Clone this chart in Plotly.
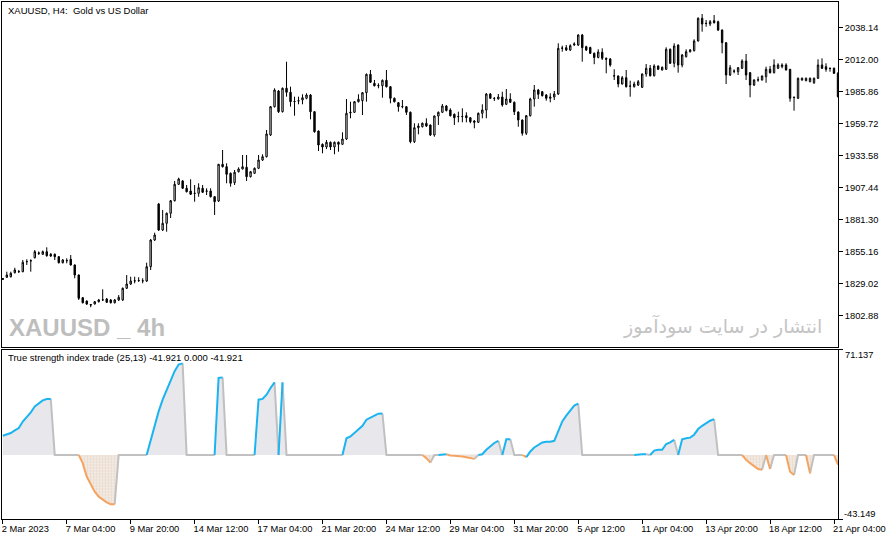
import plotly.graph_objects as go

# ---------------- data ----------------
bar_idx = list(range(210))

open_ = [
 1832.68, 1834.50, 1834.97, 1838.23, 1839.21, 1839.05, 1847.38, 1847.79, 1850.49, 1853.92,
 1853.27, 1855.39, 1853.27, 1853.27, 1851.31, 1846.41, 1848.20, 1849.18, 1844.53, 1836.35,
 1817.81, 1815.11, 1812.26, 1812.66, 1814.54, 1815.93, 1816.75, 1815.93, 1813.73, 1815.93,
 1815.93, 1825.49, 1829.00, 1831.45, 1831.70, 1831.45, 1831.45, 1843.14, 1864.94, 1894.35,
 1873.11, 1878.58, 1886.75, 1897.05, 1910.45, 1913.14, 1907.18, 1904.98, 1902.93, 1903.09,
 1907.18, 1904.98, 1904.98, 1900.32, 1896.81, 1926.79, 1924.83, 1919.43, 1911.75, 1920.74,
 1922.95, 1924.33, 1916.65, 1919.43, 1923.52, 1930.30, 1933.00, 1950.72, 1973.84, 1986.66,
 1969.75, 1988.87, 1985.60, 1977.92, 1978.49, 1979.31, 1980.70, 1983.40, 1969.75, 1953.98,
 1943.12, 1940.92, 1944.76, 1940.92, 1944.76, 1943.12, 1947.45, 1968.69, 1969.26, 1977.92,
 1978.74, 1985.27, 2000.30, 1992.95, 1991.15, 1990.99, 1995.40, 1990.17, 1980.70, 1977.10,
 1974.00, 1973.84, 1969.26, 1945.24, 1956.68, 1957.50, 1960.28, 1958.89, 1950.72, 1966.24,
 1969.26, 1974.41, 1971.14, 1967.63, 1965.67, 1965.67, 1966.49, 1964.85, 1962.15, 1961.09,
 1968.44, 1971.14, 1984.21, 1980.70, 1980.13, 1981.76, 1975.80, 1980.13, 1977.43, 1969.51,
 1962.97, 1952.11, 1966.49, 1980.13, 1987.48, 1986.09, 1983.40, 1980.70, 1981.76, 1984.21,
 2021.54, 2022.03, 2020.16, 2024.24, 2024.24, 2032.41, 2022.85, 2022.20, 2017.46, 2014.03,
 2018.28, 2013.37, 2012.80, 1998.92, 1998.92, 1992.38, 1997.53, 1990.75, 1990.17, 1991.56,
 1989.68, 2000.55, 2005.21, 1999.16, 2007.08, 2003.82, 2004.39, 2020.73, 2009.29, 2024.24,
 2007.90, 2014.68, 2018.77, 2019.58, 2027.51, 2046.05, 2041.97, 2041.39, 2044.09, 2043.27,
 2036.49, 2026.12, 1999.73, 2003.00, 2002.43, 2005.21, 2011.17, 2001.61, 1991.56, 1995.65,
 1995.65, 1998.34, 2004.39, 2001.61, 2005.21, 2006.51, 2007.90, 2004.39, 1981.52, 1980.70,
 1995.65, 1995.08, 1994.26, 1993.44, 1997.04, 2007.90, 2006.51, 2005.21, 2005.21, 2001.12]

high = [
 1833.90, 1839.05, 1839.05, 1842.32, 1840.44, 1848.61, 1849.18, 1849.18, 1856.78, 1855.55,
 1856.37, 1858.98, 1854.33, 1853.92, 1851.88, 1849.43, 1850.00, 1852.70, 1844.94, 1836.76,
 1818.38, 1815.52, 1812.66, 1815.11, 1816.75, 1824.67, 1817.56, 1816.75, 1816.75, 1819.98,
 1826.14, 1836.35, 1834.97, 1834.97, 1834.48, 1833.66, 1846.41, 1865.76, 1870.90, 1895.17,
 1889.45, 1887.41, 1897.62, 1913.14, 1915.84, 1913.96, 1909.87, 1914.53, 1909.87, 1911.26,
 1909.87, 1907.18, 1907.18, 1900.89, 1927.03, 1938.47, 1927.60, 1920.08, 1922.13, 1924.33,
 1934.38, 1934.38, 1921.31, 1924.17, 1934.38, 1934.96, 1954.80, 1974.41, 1988.87, 1987.48,
 1989.52, 2010.60, 1990.17, 1982.00, 1982.00, 1983.97, 1984.79, 1984.21, 1970.32, 1954.39,
 1943.78, 1946.63, 1945.41, 1945.41, 1945.41, 1952.92, 1980.13, 1977.92, 1978.49, 1983.97,
 1985.85, 2000.96, 2003.82, 1995.65, 1992.95, 1996.06, 2003.82, 1990.75, 1981.35, 1977.68,
 1979.31, 1974.41, 1969.92, 1960.28, 1960.28, 1960.93, 1964.36, 1959.30, 1966.65, 1969.92,
 1976.04, 1975.23, 1972.53, 1968.28, 1969.75, 1972.53, 1969.26, 1965.42, 1962.97, 1969.10,
 1975.80, 1985.03, 1985.03, 1981.76, 1984.21, 1986.09, 1988.30, 1984.79, 1978.09, 1969.90,
 1963.38, 1967.06, 1981.19, 1991.56, 1988.30, 1986.66, 1984.21, 1984.79, 1986.66, 2025.63,
 2023.67, 2024.24, 2024.81, 2026.45, 2032.98, 2033.23, 2023.59, 2022.85, 2018.11, 2020.73,
 2021.54, 2014.03, 2013.62, 2004.39, 1999.32, 1998.92, 2003.82, 1995.08, 1994.26, 1995.65,
 2000.96, 2008.72, 2007.90, 2008.47, 2007.49, 2006.68, 2022.36, 2021.38, 2025.63, 2024.65,
 2016.89, 2020.73, 2020.97, 2028.90, 2046.87, 2049.56, 2044.66, 2044.66, 2048.75, 2044.09,
 2036.90, 2026.69, 2007.90, 2004.39, 2006.27, 2012.56, 2016.89, 2002.18, 1996.22, 1998.34,
 1999.32, 2006.51, 2007.08, 2012.56, 2009.29, 2009.29, 2009.29, 2004.63, 1982.17, 1997.69,
 1997.69, 1997.69, 1997.69, 1997.69, 2012.56, 2013.37, 2009.29, 2005.86, 2005.86, 2002.18]

low = [
 1832.27, 1833.90, 1834.31, 1837.58, 1837.99, 1838.62, 1844.53, 1839.05, 1849.84, 1852.70,
 1852.70, 1851.31, 1851.06, 1848.61, 1845.75, 1845.75, 1845.91, 1844.12, 1833.66, 1815.93,
 1813.07, 1811.85, 1809.97, 1812.26, 1813.89, 1815.11, 1813.48, 1813.07, 1813.07, 1815.11,
 1815.11, 1824.92, 1828.19, 1829.57, 1830.64, 1829.57, 1830.64, 1840.44, 1864.13, 1872.30,
 1872.30, 1871.73, 1882.91, 1896.39, 1909.87, 1906.61, 1903.75, 1901.71, 1896.23, 1900.32,
 1903.34, 1901.71, 1899.66, 1885.37, 1895.99, 1924.17, 1911.26, 1908.49, 1909.87, 1920.08,
 1922.54, 1913.14, 1916.00, 1918.86, 1922.95, 1929.48, 1932.34, 1949.90, 1973.18, 1968.69,
 1969.10, 1982.00, 1973.84, 1966.49, 1975.80, 1975.80, 1979.88, 1963.54, 1952.60, 1937.65,
 1935.77, 1939.27, 1938.47, 1934.96, 1937.08, 1942.55, 1946.63, 1964.36, 1968.69, 1977.27,
 1967.06, 1977.92, 1993.20, 1990.34, 1988.87, 1981.19, 1989.52, 1976.61, 1977.27, 1969.75,
 1972.53, 1967.06, 1943.94, 1944.18, 1951.29, 1956.85, 1957.25, 1949.90, 1949.33, 1958.89,
 1968.69, 1969.92, 1965.83, 1958.89, 1961.09, 1961.09, 1961.09, 1960.28, 1956.19, 1960.52,
 1964.36, 1964.36, 1980.13, 1978.49, 1979.72, 1973.84, 1975.23, 1976.86, 1967.06, 1957.50,
 1950.15, 1950.72, 1965.83, 1973.84, 1980.13, 1982.17, 1978.74, 1977.43, 1979.31, 1983.40,
 2018.77, 2019.34, 2019.34, 2023.59, 2023.42, 2010.60, 2019.34, 2016.89, 2008.55, 2013.37,
 2011.99, 2001.12, 2006.51, 1995.65, 1989.68, 1991.97, 1989.52, 1982.00, 1989.52, 1990.75,
 1989.11, 1998.34, 1998.51, 1998.51, 2003.82, 2003.41, 2003.82, 2008.72, 2006.02, 2001.61,
 2006.02, 2014.03, 2018.11, 2018.93, 2027.10, 2035.10, 2039.19, 2039.76, 2041.80, 2035.68,
 2017.46, 1992.38, 1998.92, 2001.12, 1999.73, 2004.63, 1995.65, 1981.52, 1990.75, 1994.26,
 1995.24, 1993.44, 2000.96, 2000.96, 2004.63, 2005.21, 2003.41, 1977.92, 1970.57, 1980.13,
 1995.08, 1994.59, 1993.77, 1992.38, 1996.46, 2004.63, 2002.43, 2002.43, 2000.55, 1981.35]

close = [
 1833.49, 1836.35, 1837.74, 1840.44, 1839.05, 1846.73, 1847.22, 1848.04, 1855.39, 1854.33,
 1855.39, 1852.12, 1851.88, 1851.31, 1846.41, 1848.61, 1848.04, 1844.53, 1836.35, 1817.32,
 1813.73, 1812.66, 1811.85, 1814.54, 1815.93, 1816.09, 1814.05, 1813.73, 1815.93, 1818.13,
 1825.49, 1829.00, 1831.45, 1831.62, 1831.86, 1831.62, 1843.14, 1864.94, 1869.03, 1873.11,
 1878.58, 1886.75, 1897.05, 1910.45, 1914.78, 1907.18, 1904.41, 1902.28, 1903.09, 1907.67,
 1903.91, 1904.81, 1900.32, 1896.23, 1926.79, 1924.83, 1918.61, 1911.26, 1920.25, 1922.95,
 1924.83, 1916.65, 1920.74, 1923.52, 1930.30, 1933.00, 1951.54, 1973.84, 1987.48, 1969.75,
 1988.87, 1985.60, 1977.92, 1978.09, 1978.66, 1981.19, 1983.40, 1969.75, 1953.41, 1942.55,
 1940.92, 1944.76, 1940.92, 1944.76, 1943.12, 1947.45, 1968.44, 1969.26, 1977.92, 1979.88,
 1985.27, 2000.30, 1993.77, 1990.99, 1990.99, 1995.40, 1990.17, 1980.70, 1977.92, 1973.84,
 1973.84, 1969.26, 1945.24, 1956.68, 1958.07, 1960.28, 1958.07, 1950.72, 1966.24, 1969.26,
 1974.41, 1970.73, 1966.49, 1964.85, 1965.83, 1965.83, 1964.85, 1961.58, 1961.09, 1968.44,
 1971.14, 1984.21, 1980.70, 1980.54, 1981.76, 1975.23, 1980.13, 1977.43, 1969.75, 1962.97,
 1952.11, 1966.49, 1980.13, 1987.48, 1983.97, 1982.82, 1980.70, 1981.76, 1984.21, 2021.54,
 2021.79, 2020.16, 2023.67, 2025.06, 2032.41, 2022.03, 2020.16, 2017.46, 2014.03, 2018.52,
 2013.37, 2012.56, 2007.90, 1999.08, 1992.38, 1997.53, 1990.17, 1990.58, 1992.38, 1994.26,
 2000.55, 2005.21, 1999.16, 2007.08, 2004.39, 2006.02, 2020.73, 2009.29, 2023.42, 2007.90,
 2016.07, 2018.77, 2020.16, 2027.51, 2046.05, 2041.39, 2041.80, 2043.27, 2042.46, 2036.49,
 2026.12, 1999.73, 2005.70, 2002.84, 2005.70, 2011.17, 1999.73, 1991.56, 1995.65, 1995.81,
 1998.92, 2004.39, 2001.61, 2007.90, 2007.90, 2007.90, 2003.82, 1980.70, 1981.35, 1997.04,
 1997.04, 1997.04, 1997.04, 1997.04, 2007.90, 2005.21, 2004.39, 2005.04, 2001.12, 1982.00]

tsi = [
 12.98, 13.66, 14.8, 16.6, 18.2, 22.6, 25.6, 28.7, 32.8, 35.1,
 36.8, 37.8, 37.8, 0, 0, 0, 0, 0, 0, 0,
 -5.5, -14.5, -20.2, -24.7, -28.1, -30.3, -31.9, -33.2, -33.2, 0,
 0, 0, 0, 0, 0, 0, 0, 10.3, 20.5, 29.4,
 37.3, 44.1, 50.9, 56.5, 61.0, 61.8, 0, 0, 0, 0,
 0, 0, 0, 0, 52.0, 52.3, 0, 0, 0, 0,
 0, 0, 0, 0, 37.3, 37.8, 40.7, 45.2, 49.0, 0,
 49.0, 0, 0, 0, 0, 0, 0, 0, 0, 0,
 0, 0, 0, 0, 0, 0, 11.3, 12.5, 14.8, 17.5,
 19.7, 23.8, 25.4, 26.5, 27.9, 28.0, 0, 0, 0, 0,
 0, 0, 0, 0, 0, 0, -2.1, -5.1, 0, 0,
 0.5, 0.5, -0.3, -0.5, -0.5, -1.0, -1.5, -2.1, -2.6, 0,
 0.5, 3.5, 5.8, 8.1, 9.6, 0, 10.6, 10.6, 0, 0,
 0, -1.5, 2.4, 5.1, 6.9, 8.5, 9.0, 9.0, 9.6, 16.6,
 22.6, 26.5, 29.9, 33.3, 34.6, 0, 0, 0, 0, 0,
 0, 0, 0, 0, 0, 0, 0, 0, 0, 0.5,
 0.5, 0.5, 0, 3.0, 3.5, 3.5, 7.4, 8.5, 10.3, 0,
 10.6, 11.3, 11.7, 13.7, 17.5, 19.7, 21.5, 23.1, 24.2, 0,
 0, 0, 0, 0, 0, 0, -3.2, -5.5, -7.7, -9.5,
 -10.0, 0, -9.5, 0, 0, 0, 0, -11.3, -13.5, 0,
 0, 0, -12.4, 0, 0, 0, 0, 0, 0, -6.5]

price_ticks = [2038.14, 2012.00, 1985.86, 1959.72, 1933.58, 1907.44, 1881.30, 1855.16, 1829.02, 1802.88]
price_tick_text = ["2038.14", "2012.00", "1985.86", "1959.72", "1933.58",
                   "1907.44", "1881.30", "1855.16", "1829.02", "1802.88"]
price_range = [1777.94, 2059.77]

tsi_range = [-43.149, 71.137]
tsi_tick_text = ["71.137", "-43.149"]

time_tick_bars = [0, 16, 32, 48, 64, 80, 96, 112, 128, 144, 160, 176, 192, 208]
time_tick_text = ["2 Mar 2023", "7 Mar 04:00", "9 Mar 20:00", "14 Mar 12:00", "17 Mar 04:00",
                  "21 Mar 20:00", "24 Mar 12:00", "29 Mar 04:00", "31 Mar 20:00", "5 Apr 12:00",
                  "11 Apr 04:00", "13 Apr 20:00", "18 Apr 12:00", "21 Apr 04:00"]

chart_title = "XAUUSD, H4:\u00a0 Gold vs US Dollar"
indicator_title = "True strength index trade (25,13) -41.921 0.000 -41.921"
watermark_left = "XAUUSD _ 4h"
watermark_right = "انتشار در سایت سودآموز"

# ---------------- styling ----------------
W, H = 892, 541
FONT = "Liberation Sans, Arial, sans-serif"
FS = 9.3
FS_TITLE = 9.5
BLUE = "#1AB4F0"
ORANGE = "#F4A460"
GRAY = "#C0C0C0"

def px_x(p):
    return p / W

def px_y(p):
    return 1 - p / H

x_dom = [px_x(2), px_x(838)]
x_range = [-0.2, 209.0]

fig = go.Figure()

fig.add_trace(go.Candlestick(
    x=bar_idx, open=open_, high=high, low=low, close=close,
    increasing=dict(line=dict(color="black", width=1), fillcolor="white"),
    decreasing=dict(line=dict(color="black", width=1), fillcolor="black"),
    whiskerwidth=0, xaxis="x", yaxis="y", showlegend=False, hoverinfo="skip",
))

# indicator fills
pos = [max(v, 0) for v in tsi]
neg = [min(v, 0) for v in tsi]
fig.add_trace(go.Scatter(x=bar_idx, y=pos, mode="lines", fill="tozeroy",
                         fillcolor="#E7E7EC", line=dict(width=0, color="rgba(0,0,0,0)"),
                         xaxis="x2", yaxis="y2", showlegend=False, hoverinfo="skip"))
fig.add_trace(go.Scatter(x=bar_idx, y=neg, mode="lines", fill="tozeroy",
                         fillcolor="rgba(0,0,0,0)",
                         fillpattern=dict(shape=".", fgcolor="#E6C2A2", bgcolor="#F2F0EE",
                                          size=3, solidity=0.5),
                         line=dict(width=0, color="rgba(0,0,0,0)"),
                         xaxis="x2", yaxis="y2", showlegend=False, hoverinfo="skip"))

# multi-coloured indicator line
def seg_color(i):
    v, p = tsi[i], tsi[i - 1]
    if v > 0 and v >= p:
        return "blue"
    if v < 0 and v <= p:
        return "orange"
    return "gray"

runs = {"blue": ([], []), "orange": ([], []), "gray": ([], [])}
i = 1
while i < len(tsi):
    c = seg_color(i)
    xs, ys = [bar_idx[i - 1]], [tsi[i - 1]]
    while i < len(tsi) and seg_color(i) == c:
        xs.append(bar_idx[i]); ys.append(tsi[i]); i += 1
    rx, ry = runs[c]
    rx.extend(xs + [None]); ry.extend(ys + [None])

for c, col in (("gray", GRAY), ("orange", ORANGE), ("blue", BLUE)):
    rx, ry = runs[c]
    fig.add_trace(go.Scatter(x=rx, y=ry, mode="lines", connectgaps=False,
                             line=dict(color=col, width=2),
                             xaxis="x2", yaxis="y2", showlegend=False, hoverinfo="skip"))

axis_common = dict(showgrid=False, zeroline=False, showline=True, mirror=True,
                   linecolor="black", linewidth=1, tickcolor="black", automargin=False,
                   tickfont=dict(family=FONT, size=FS, color="black"))

fig.update_layout(
    width=W, height=H, autosize=False,
    margin=dict(l=0, r=0, t=0, b=0, pad=0, autoexpand=False),
    paper_bgcolor="white", plot_bgcolor="white",
    boxgap=0.5,
    xaxis=dict(domain=x_dom, range=x_range, showticklabels=False, ticks="",
               rangeslider=dict(visible=False), anchor="y", **axis_common),
    yaxis=dict(domain=[px_y(346.5), px_y(1.5)], range=price_range, side="right",
               tickvals=price_ticks, ticktext=price_tick_text, ticks="outside", ticklen=4,
               anchor="x", **axis_common),
    xaxis2=dict(domain=x_dom, range=x_range, tickvals=time_tick_bars, ticktext=time_tick_text,
                ticks="outside", ticklen=4, ticklabelposition="outside right", tickangle=0,
                ticklabelshift=-2, ticklabelstandoff=1,
                anchor="y2", **axis_common),
    yaxis2=dict(domain=[px_y(519), px_y(349.5)], range=tsi_range, side="right",
                tickvals=tsi_range[::-1], ticks="outside", ticklen=4, showticklabels=False,
                anchor="x2", **axis_common),
    showlegend=False,
)

ann = []
ann.append(dict(text=chart_title, x=px_x(6), y=px_y(10), xref="paper", yref="paper",
                xanchor="left", yanchor="middle", showarrow=False,
                font=dict(family=FONT, size=FS_TITLE, color="black")))
ann.append(dict(text=indicator_title, x=px_x(6), y=px_y(357.5), xref="paper", yref="paper",
                xanchor="left", yanchor="middle", showarrow=False,
                font=dict(family=FONT, size=FS_TITLE, color="black")))
ann.append(dict(text="<b>" + watermark_left + "</b>", x=px_x(7), y=px_y(327), xref="paper",
                yref="paper", xanchor="left", yanchor="middle", showarrow=False,
                font=dict(family="Liberation Sans, sans-serif", size=24, color="#BEBEBE")))
ann.append(dict(text=watermark_right, x=px_x(824), y=px_y(326), xref="paper", yref="paper",
                xanchor="right", yanchor="middle", showarrow=False,
                font=dict(family="DejaVu Sans, sans-serif", size=19, color="#C4C4C4")))
ann.append(dict(text=tsi_tick_text[0], x=px_x(843), y=px_y(354.5), xref="paper", yref="paper",
                xanchor="left", yanchor="middle", showarrow=False,
                font=dict(family=FONT, size=FS, color="black")))
ann.append(dict(text=tsi_tick_text[1], x=px_x(842), y=px_y(514), xref="paper", yref="paper",
                xanchor="left", yanchor="middle", showarrow=False,
                font=dict(family=FONT, size=FS, color="black")))
fig.update_layout(annotations=ann)

fig.write_html(
    "out.html",
    config={"displayModeBar": False},
    post_script=("document.documentElement.style.margin='0';"
                 "document.body.style.margin='0';document.body.style.padding='0';"
                 "document.documentElement.style.overflow='hidden';"
                 "document.body.style.overflow='hidden';"),
)
